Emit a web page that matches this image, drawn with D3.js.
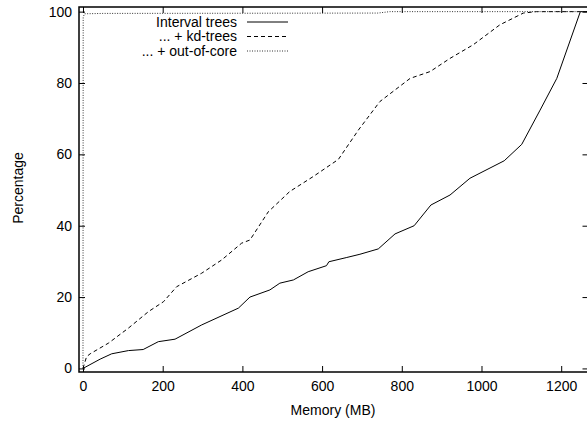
<!DOCTYPE html>
<html>
<head>
<meta charset="utf-8">
<script src="https://cdn.jsdelivr.net/npm/d3@7"></script>
<style>
    body { margin: 0; background: #fff; }
    text { font-family: "Liberation Sans", Arial, sans-serif; font-size: 14px; fill: #000; }
</style>
</head>
<body>
<svg id="chart" width="587" height="422"></svg>
<script>
// memory (MB) vs percentage
const intervalX = [0, 43, 72, 114, 151, 189, 231, 298, 390, 419, 469, 494, 528, 565, 611, 617, 662, 695, 741, 783, 831, 873, 921, 971, 1057, 1101, 1147, 1189, 1248, 1268];
const intervalY = [0, 2.6, 4.1, 5.0, 5.3, 7.5, 8.2, 12.2, 16.9, 20.0, 22.0, 23.9, 24.8, 27.1, 28.8, 29.9, 31.1, 32.0, 33.5, 37.7, 40.0, 45.8, 48.6, 53.3, 58.2, 62.8, 72.4, 81.3, 100, 100];

const kdX = [0, 9, 18, 64, 114, 164, 202, 235, 298, 348, 398, 419, 465, 519, 578, 641, 691, 745, 821, 871, 921, 979, 1046, 1105, 1138, 1268];
const kdY = [0, 3.3, 4.1, 7.1, 11.3, 15.9, 18.7, 22.9, 26.7, 30.4, 35.1, 36.0, 43.9, 49.6, 53.8, 58.6, 66.8, 74.8, 81.3, 83.2, 86.9, 90.7, 96.3, 99.6, 100, 100];

const oocX = [0, 0.5, 4, 50, 740, 770, 1268];
const oocY = [0, 98.5, 99.4, 99.5, 99.6, 100, 100];

const xTicks = [0, 200, 400, 600, 800, 1000, 1200];
const yTicks = [0, 20, 40, 60, 80, 100];

const seriesNames = ["Interval trees", "... + kd-trees", "... + out-of-core"];
const seriesX = [intervalX, kdX, oocX];
const seriesY = [intervalY, kdY, oocY];

const margin = { left: 79, right: 588.5, top: 7, bottom: 372 };

const x = d3.scaleLinear().domain([-10, 1268.5]).range([margin.left, margin.right]);
const y = d3.scaleLinear().domain([-1, 101.3]).range([margin.bottom, margin.top]);

const svg = d3.select("#chart");

const dashes = [null, "4,3", "1,1.5"];
const strokes = ["#000", "#000", "#333"];

const line = d3.line()
    .x(d => x(d[0]))
    .y(d => y(d[1]));

seriesNames.forEach((name, i) => {
    const pts = seriesX[i].map((v, j) => [v, seriesY[i][j]]);
    svg.append("path")
        .datum(pts)
        .attr("fill", "none")
        .attr("stroke", strokes[i])
        .attr("stroke-width", 1)
        .attr("stroke-dasharray", dashes[i])
        .attr("d", line);
});

// axes, ticks pointing inward like gnuplot
svg.append("g")
    .attr("transform", `translate(0,${margin.bottom})`)
    .call(d3.axisBottom(x).tickValues(xTicks).tickSize(-6).tickPadding(9).tickFormat(d3.format("d")));

svg.append("g")
    .attr("transform", `translate(0,${margin.top})`)
    .call(d3.axisTop(x).tickValues(xTicks).tickSize(-6).tickFormat(""));

svg.append("g")
    .attr("transform", `translate(${margin.left},0)`)
    .call(d3.axisLeft(y).tickValues(yTicks).tickSize(-6).tickPadding(7));

svg.append("g")
    .attr("transform", `translate(${margin.right},0)`)
    .call(d3.axisRight(y).tickValues(yTicks).tickSize(-6).tickFormat(""));

svg.selectAll(".domain").remove();
svg.selectAll(".tick line").attr("stroke", "#000").attr("stroke-width", 1);
svg.selectAll(".tick text")
    .style("font-family", "'Liberation Sans', Arial, sans-serif")
    .style("font-size", "14px");

svg.append("rect")
    .attr("x", margin.left)
    .attr("y", margin.top)
    .attr("width", margin.right - margin.left)
    .attr("height", margin.bottom - margin.top)
    .attr("fill", "none")
    .attr("stroke", "#000")
    .attr("stroke-width", 1.5);

// legend
const legendY = [22, 36.5, 51];
seriesNames.forEach((name, i) => {
    svg.append("text")
        .attr("x", 237)
        .attr("y", legendY[i])
        .attr("dy", "0.35em")
        .attr("text-anchor", "end")
        .text(name);
    svg.append("line")
        .attr("x1", 247)
        .attr("x2", 288)
        .attr("y1", legendY[i])
        .attr("y2", legendY[i])
        .attr("stroke", strokes[i])
        .attr("stroke-width", 1)
        .attr("stroke-dasharray", dashes[i]);
});

svg.append("text")
    .attr("x", 333)
    .attr("y", 415)
    .attr("text-anchor", "middle")
    .text("Memory (MB)");

svg.append("text")
    .attr("transform", "translate(23,188) rotate(-90)")
    .attr("text-anchor", "middle")
    .text("Percentage");
</script>
</body>
</html>
